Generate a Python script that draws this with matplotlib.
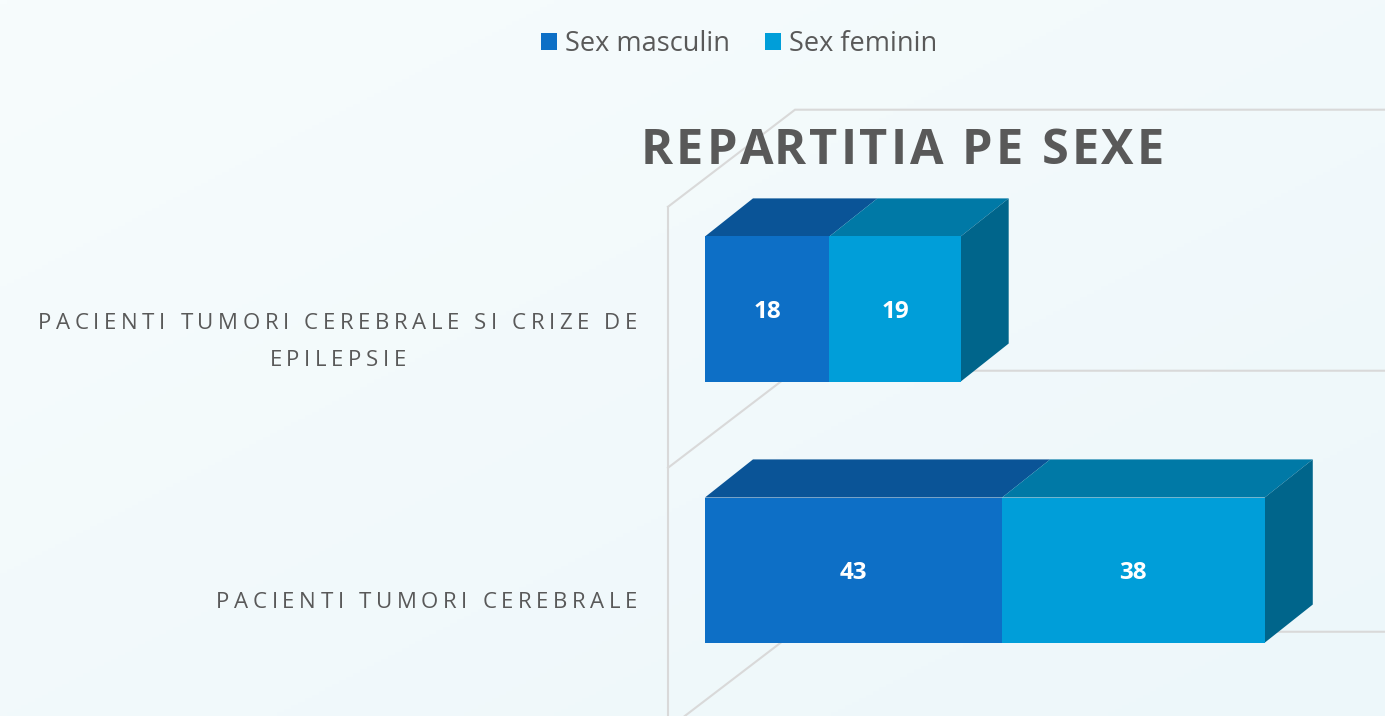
import numpy as np
import matplotlib
matplotlib.use('Agg')
import matplotlib.pyplot as plt
from matplotlib.patches import Polygon, Rectangle, Patch
from matplotlib.font_manager import FontProperties
from matplotlib.transforms import IdentityTransform

# ------------------------------------------------------------
# Data
# ------------------------------------------------------------
categories = ['PACIENTI TUMORI CEREBRALE',
              'PACIENTI TUMORI CEREBRALE SI CRIZE DE\nEPILEPSIE']
series_names = ['Sex masculin', 'Sex feminin']
male = [43, 18]
female = [38, 19]
title = 'REPARTITIA PE SEXE'

# ------------------------------------------------------------
# Style
# ------------------------------------------------------------
front_colors = ['#0D6FC6', '#009ED9']
top_colors = ['#0A5497', '#0079A6']
side_color = '#00658B'
grid_color = '#D9D9D9'
text_gray = '#595959'

W, H, DPI = 1385, 716, 100
bar_h = 0.556                 # bar thickness (category units)
ddx, ddy = 6.95, 0.146        # bar depth offset (value, category units)
DX, DY = 18.38, 0.372         # full floor depth
f0 = 0.291                    # bar front position inside the depth
fx, fy = -f0 * DX, -f0 * DY   # front plane offset

fig = plt.figure(figsize=(W / DPI, H / DPI), dpi=DPI)

# background gradient
bg = fig.add_axes([0, 0, 1, 1], zorder=-10)
yy, xx = np.mgrid[0:1:200j, 0:1:200j]
t = np.clip((xx + (1 - yy)) / 2, 0, 1)[..., None]
c1 = np.array([0xF7, 0xFC, 0xFD]) / 255
c2 = np.array([0xED, 0xF7, 0xFA]) / 255
bg.imshow(c1 * (1 - t) + c2 * t, extent=[0, 1, 0, 1], aspect='auto',
          origin='lower')
bg.axis('off')

ax = fig.add_axes([0, 0, 1, 1])
ax.set_xlim(-102.0, 98.4)
ax.set_ylim(-0.559, 2.184)
ax.axis('off')
ax.patch.set_alpha(0)

# ── 3D frame (floor / wall lines) ───────────────────────────
n = len(categories)
bounds = [k - 0.5 for k in range(n + 1)]
ax.plot([fx, fx], [bounds[-1] + fy, ax.get_ylim()[0]], color=grid_color,
        lw=1.5, zorder=1)
for b in bounds:
    ax.plot([fx, fx + DX, ax.get_xlim()[1]],
            [b + fy, b + fy + DY, b + fy + DY],
            color=grid_color, lw=1.5, zorder=1, solid_joinstyle='miter')

# ── 3D stacked bars ─────────────────────────────────────────
for i in range(n):
    vals = [male[i], female[i]]
    left = 0
    y0, y1 = i - bar_h / 2, i + bar_h / 2
    for j, v in enumerate(vals):
        ax.add_patch(Rectangle((left, y0), v, bar_h, fc=front_colors[j],
                               ec='none', zorder=3))
        ax.add_patch(Polygon([(left, y1), (left + v, y1),
                              (left + v + ddx, y1 + ddy),
                              (left + ddx, y1 + ddy)],
                             closed=True, fc=top_colors[j], ec='none',
                             zorder=2))
        ax.text(left + v / 2, i, str(v), color='white', fontsize=17.5,
                fontweight='bold', family='Open Sans', ha='center',
                va='center_baseline', zorder=5)
        left += v
    ax.add_patch(Polygon([(left, y0), (left, y1), (left + ddx, y1 + ddy),
                          (left + ddx, y0 + ddy)],
                         closed=True, fc=side_color, ec='none', zorder=2))

# ── letter-spaced text helper ──────────────────────────────
renderer = fig.canvas.get_renderer()


def text_width(s, fp):
    w1 = renderer.get_text_width_height_descent(s + '|', fp, ismath=False)[0]
    w0 = renderer.get_text_width_height_descent('|', fp, ismath=False)[0]
    return w1 - w0


def spaced_text(x, y, s, fp, track, color, ha='center'):
    total = text_width(s, fp) + track * (len(s) - 1)
    if ha == 'center':
        x0 = x - total / 2
    elif ha == 'right':
        x0 = x - total
    else:
        x0 = x
    for k, ch in enumerate(s):
        if ch == ' ':
            continue
        fig.text(x0 + text_width(s[:k], fp) + track * k, y, ch,
                 fontproperties=fp, color=color, transform=IdentityTransform(),
                 ha='left', va='baseline')
    return total


# category labels (right-aligned block, centred lines)
lab_fp = FontProperties(family='Open Sans', size=16)
lab_track = 4.6
line_gap = 37
cap = 16
for i, lab in enumerate(categories):
    px, py = ax.transData.transform((fx, i + fy))
    right = px - 31
    lines = lab.split('\n')
    widths = [text_width(s, lab_fp) + lab_track * (len(s) - 1) for s in lines]
    block_w = max(widths)
    cx = right - block_w / 2
    top_base = py + (len(lines) - 1) * line_gap / 2 - cap / 2 - 2
    for k, s in enumerate(lines):
        spaced_text(cx, top_base - k * line_gap, s, lab_fp, lab_track,
                    text_gray)

# title
title_fp = FontProperties(family='Open Sans', weight='bold', size=35)
spaced_text(902.5, H - 164, title, title_fp, 3.0, text_gray)

# legend
handles = [Patch(fc=c, ec='none') for c in front_colors]
fig.legend(handles, series_names, loc='center', ncol=2,
           bbox_to_anchor=(0.5336, 0.938), frameon=False,
           prop=FontProperties(family='Open Sans', size=19.5),
           labelcolor=text_gray, handlelength=0.58, handleheight=0.58,
           handletextpad=0.3, columnspacing=1.3)

fig.savefig('out.png', dpi=DPI)
